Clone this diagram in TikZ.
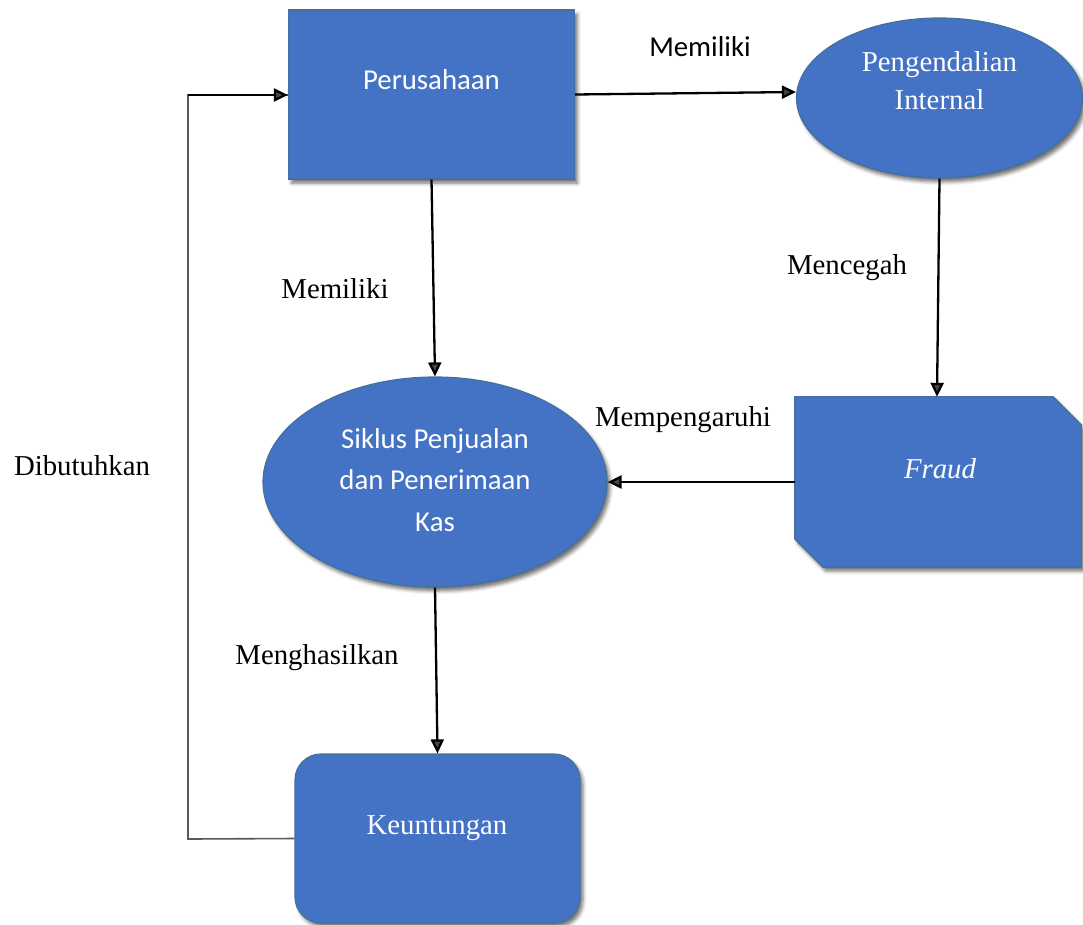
\documentclass[tikz,border=0pt]{standalone}
\usepackage{fontspec}
\setmainfont{Liberation Serif}
\newfontfamily\carlitofont{Carlito}
\usetikzlibrary{shapes.geometric,arrows.meta,calc,shadows.blur}
\definecolor{boxfill}{HTML}{4472C4}
\definecolor{boxline}{HTML}{41719C}
\definecolor{loopgray}{HTML}{595959}
\tikzset{
  shp/.style={fill=boxfill, draw=boxline, line width=1.2pt,
    blur shadow={shadow xshift=3pt, shadow yshift=-4pt, shadow blur radius=3.5pt, shadow opacity=55}},
  intxt/.style={text=white, anchor=base, align=center, inner sep=0pt},
  lbl/.style={anchor=base, inner sep=0pt, text=black},
  arr/.style={line width=2.3pt, -{Triangle[length=14pt,width=13pt]}},
  fs/.style={font=\fontsize{28.8}{38}\selectfont},
  fsc/.style={font=\carlitofont\fontsize{28.8}{41.5}\selectfont}
}
\begin{document}
\begin{tikzpicture}[x=1pt,y=-1pt]
\useasboundingbox (0,0) rectangle (1083,924);
% shapes
\node[shp, rectangle, minimum width=286pt, minimum height=169pt, inner sep=0pt] (per) at (431.5,94.5) {};
\node[shp, ellipse, minimum width=286pt, minimum height=160pt, inner sep=0pt] (pen) at (939.5,98) {};
\node[shp, ellipse, minimum width=344pt, minimum height=210pt, inner sep=0pt] (sik) at (435,482) {};
\node[rectangle, minimum width=286pt, minimum height=170pt, inner sep=0pt] (fraud) at (938,482) {};
\path[shp] ($(fraud.north west)$) -- ($(fraud.north east)+(-28,0)$) -- ($(fraud.north east)+(0,28)$)
  -- (fraud.south east) -- ($(fraud.south west)+(28,0)$) -- ($(fraud.south west)+(0,-28)$) -- cycle;
\node[shp, rectangle, rounded corners=26pt, minimum width=285pt, minimum height=169pt, inner sep=0pt] (keu) at (437.5,838.5) {};
% texts inside
\node[intxt, fsc] (pertxt) at (431.5,89) {Perusahaan};
\node[intxt, fs] (pentxt) at (939.5,109) {Pengendalian\\Internal};
\node[intxt, fsc] (siktxt) at (435,531) {Siklus Penjualan\\dan Penerimaan\\Kas};
\node[intxt, fs] (fratxt) at (940,478) {\itshape Fraud};
\node[intxt, fs] (keutxt) at (437,834) {Keuntungan};
% connectors
\draw[arr] (per.east) -- ($(pen.west)+(0,-6)$);
\draw[arr] (per.south) -- (sik.north);
\draw[arr] (pen.south) -- ($(fraud.north)+(-1,0)$);
\draw[arr] (fraud.west) -- (sik.east);
\draw[arr] (sik.south) -- (keu.north);
\coordinate (lb) at (188,839);
\coordinate (lt) at (188,95);
\draw[loopgray, line width=1.6pt] (keu.west) -- (lb) -- (lt) -- (lt -| per.west);
\draw[arr] (lt) -- (lt -| per.west);
% labels
\node[lbl, fsc] (l1) at (700,56) {Memiliki};
\node[lbl, fs] (l2) at (335,298) {Memiliki};
\node[lbl, fs] (l3) at (847,274) {Mencegah};
\node[lbl, fs] (l4) at (683,426) {Mempengaruhi};
\node[lbl, fs] (l5) at (317,664) {Menghasilkan};
\node[lbl, fs] (l6) at (82,475) {Dibutuhkan};
\end{tikzpicture}
\end{document}
